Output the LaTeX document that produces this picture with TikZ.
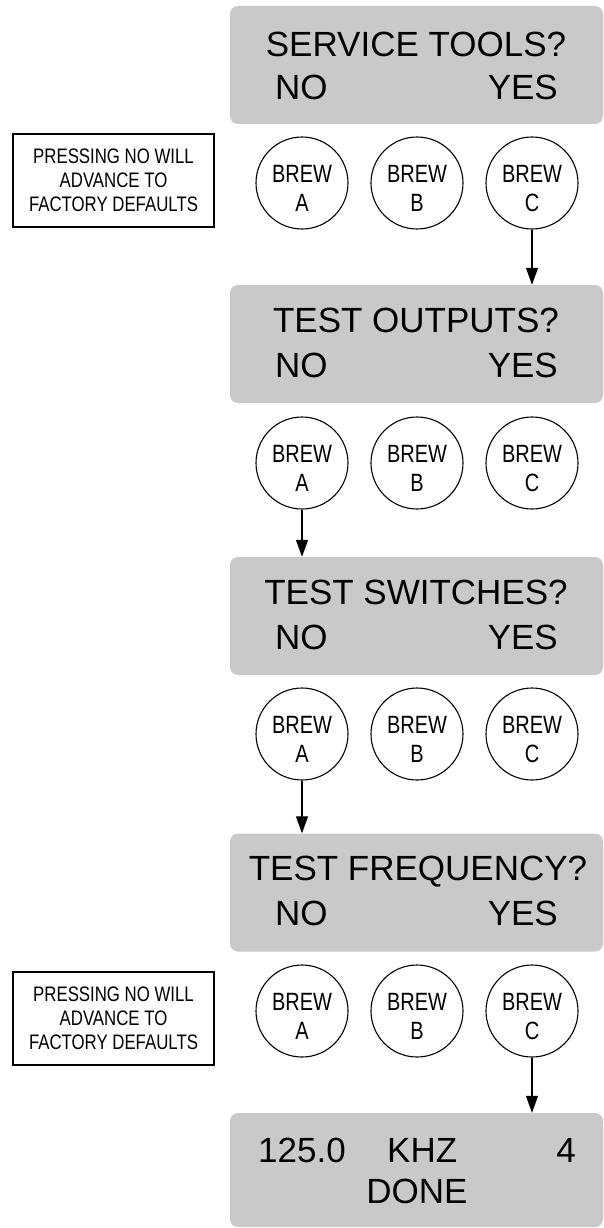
\documentclass[tikz,border=0pt]{standalone}
\usepackage{fontspec}
\setmainfont{Liberation Sans}
\newfontfamily\condfont[FakeStretch=0.8]{Liberation Sans}
\usetikzlibrary{arrows.meta,calc}
\definecolor{lcdgray}{HTML}{C8C9CB}
\tikzset{
  dispbox/.style={draw=none, fill=lcdgray, rounded corners=8pt, minimum width=373pt, minimum height=118pt, inner sep=0pt},
  bigtxt/.style={inner sep=0pt, font=\fontsize{35}{35}\selectfont},
  brew/.style={draw, circle, line width=1.1pt, minimum size=92pt, inner sep=0pt},
  brewtxt/.style={inner sep=0pt, align=center, yshift=-5.5pt, font=\condfont\fontsize{25}{29}\selectfont},
  notebox/.style={draw, line width=1.1pt, minimum width=201pt, minimum height=93pt, inner sep=0pt, align=center, font=\condfont\fontsize{21}{24}\selectfont},
  arr/.style={line width=1.2pt, -{Triangle[length=17pt, width=12pt]}}
}
\begin{document}
\begin{tikzpicture}[x=1pt, y=-1pt]
\useasboundingbox (0,0) rectangle (604,1228);
% display boxes
\node[dispbox] (b1) at (416.5,65) {};
\node[dispbox] (b2) at (416.5,344) {};
\node[dispbox] (b3) at (416.5,616) {};
\node[dispbox] (b4) at (416.5,892.5) {};
\node[dispbox, minimum height=114pt] (b5) at (416.5,1170) {};
% box texts
\node[bigtxt, anchor=base] (t1) at (416,57) {SERVICE TOOLS?};
\node[bigtxt, anchor=base west] (n1) at (275,100) {NO};
\node[bigtxt, anchor=base east] (y1) at (558,100) {YES};
\node[bigtxt, anchor=base] (t2) at (416,332) {TEST OUTPUTS?};
\node[bigtxt, anchor=base west] (n2) at (275,377) {NO};
\node[bigtxt, anchor=base east] (y2) at (558,377) {YES};
\node[bigtxt, anchor=base] (t3) at (416,604) {TEST SWITCHES?};
\node[bigtxt, anchor=base west] (n3) at (275,649) {NO};
\node[bigtxt, anchor=base east] (y3) at (558,649) {YES};
\node[bigtxt, anchor=base] (t4) at (418,880) {TEST FREQUENCY?};
\node[bigtxt, anchor=base west] (n4) at (275,925) {NO};
\node[bigtxt, anchor=base east] (y4) at (558,925) {YES};
\node[bigtxt, anchor=base west] (f1) at (258,1162) {125.0};
\node[bigtxt, anchor=base west] (f2) at (387,1162) {KHZ};
\node[bigtxt, anchor=base east] (f3) at (576,1162) {4};
\node[bigtxt, anchor=base] (f4) at (417,1203) {DONE};
% buttons
\foreach \r/\y in {1/183, 2/463, 3/734, 4/1011}{
  \node[brew] (r\r a) at (302,\y) {};
  \node[brewtxt] (l\r a) at (r\r a) {BREW\\A};
  \node[brew] (r\r b) at (417,\y) {};
  \node[brewtxt] (l\r b) at (r\r b) {BREW\\B};
  \node[brew] (r\r c) at (532,\y) {};
  \node[brewtxt] (l\r c) at (r\r c) {BREW\\C};
}
% notes
\node[notebox] (note1) at (113.5,180.5) {PRESSING NO WILL\\ADVANCE TO\\FACTORY DEFAULTS};
\node[notebox] (note2) at (113.5,1018.5) {PRESSING NO WILL\\ADVANCE TO\\FACTORY DEFAULTS};
% arrows
\draw[arr] (r1c.south) -- (b2.north -| r1c);
\draw[arr] (r2a.south) -- (b3.north -| r2a);
\draw[arr] (r3a.south) -- (b4.north -| r3a);
\draw[arr] (r4c.south) -- (b5.north -| r4c);
\end{tikzpicture}
\end{document}
